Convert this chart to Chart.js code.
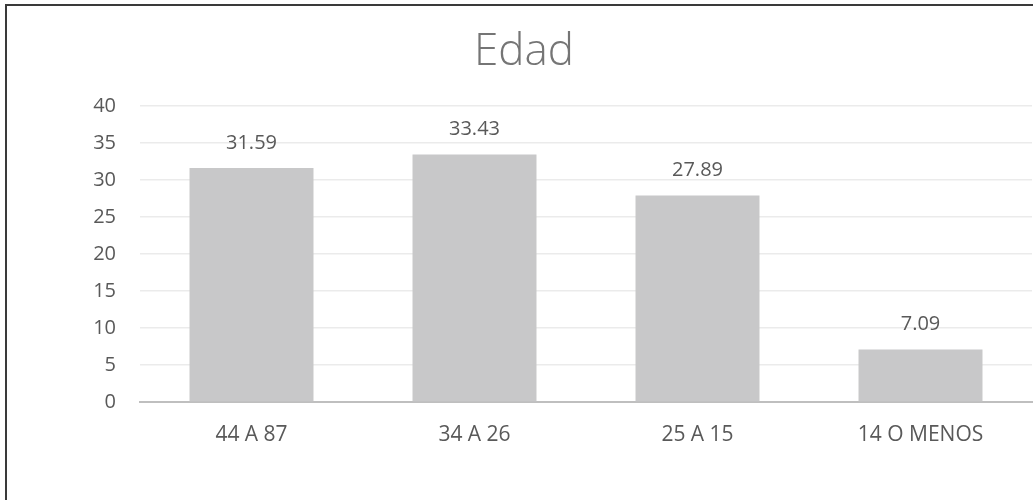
<!DOCTYPE html>
<html>
<head>
<meta charset="utf-8">
<script src="https://cdn.jsdelivr.net/npm/chart.js@4"></script>
<style>
  html, body { margin: 0; padding: 0; background: #fff; overflow: hidden; }
  #frame {
    position: absolute; left: 5px; top: 4px;
    width: 2000px; height: 2000px;
    border: 2px solid #3a3a3a; box-sizing: border-box;
  }
  #chart { position: absolute; left: 0; top: 0; }
</style>
</head>
<body>
<div id="frame"></div>
<canvas id="chart" width="1048" height="500"></canvas>
<script>
const categories = ['44 A 87', '34 A 26', '25 A 15', '14 O MENOS'];
const values = [31.59, 33.43, 27.89, 7.09];
const yTicks = [0, 5, 10, 15, 20, 25, 30, 35, 40];

const fontFamily = '"Open Sans", "Segoe UI", sans-serif';

const barLabels = {
  id: 'barLabels',
  afterDatasetsDraw(chart) {
    const ctx = chart.ctx;
    const meta = chart.getDatasetMeta(0);
    ctx.save();
    ctx.font = '20px ' + fontFamily;
    ctx.fillStyle = '#595959';
    ctx.textAlign = 'center';
    ctx.textBaseline = 'middle';
    meta.data.forEach((bar, i) => {
      ctx.fillText(values[i].toFixed(2), bar.x, bar.y - 25);
    });
    ctx.restore();
  }
};

new Chart(document.getElementById('chart'), {
  type: 'bar',
  data: {
    labels: categories,
    datasets: [{
      data: values,
      backgroundColor: '#c8c8c9',
      barPercentage: 0.556,
      categoryPercentage: 1
    }]
  },
  options: {
    responsive: false,
    animation: false,
    layout: { padding: { left: 16, right: 16, top: 0, bottom: 0 } },
    plugins: {
      legend: { display: false },
      tooltip: { enabled: false },
      title: {
        display: true,
        text: 'Edad',
        color: '#757575',
        font: { family: fontFamily, size: 44, weight: 300 },
        padding: { top: 26, bottom: 27 }
      }
    },
    scales: {
      x: {
        grid: { display: false, drawTicks: false },
        border: { display: true, color: '#bfbfbf', width: 2 },
        ticks: {
          color: '#595959',
          font: { family: fontFamily, size: 21 },
          padding: 20
        },
        afterFit(scale) { scale.height = 98; }
      },
      y: {
        min: 0,
        max: 40,
        afterBuildTicks(scale) { scale.ticks = yTicks.map(v => ({ value: v })); },
        grid: { color: '#ebebeb', lineWidth: 1.5, drawTicks: false },
        border: { display: false },
        ticks: {
          color: '#595959',
          font: { family: fontFamily, size: 20 },
          padding: 24
        },
        afterFit(scale) { scale.width = 124; }
      }
    }
  },
  plugins: [barLabels]
});
</script>
</body>
</html>
